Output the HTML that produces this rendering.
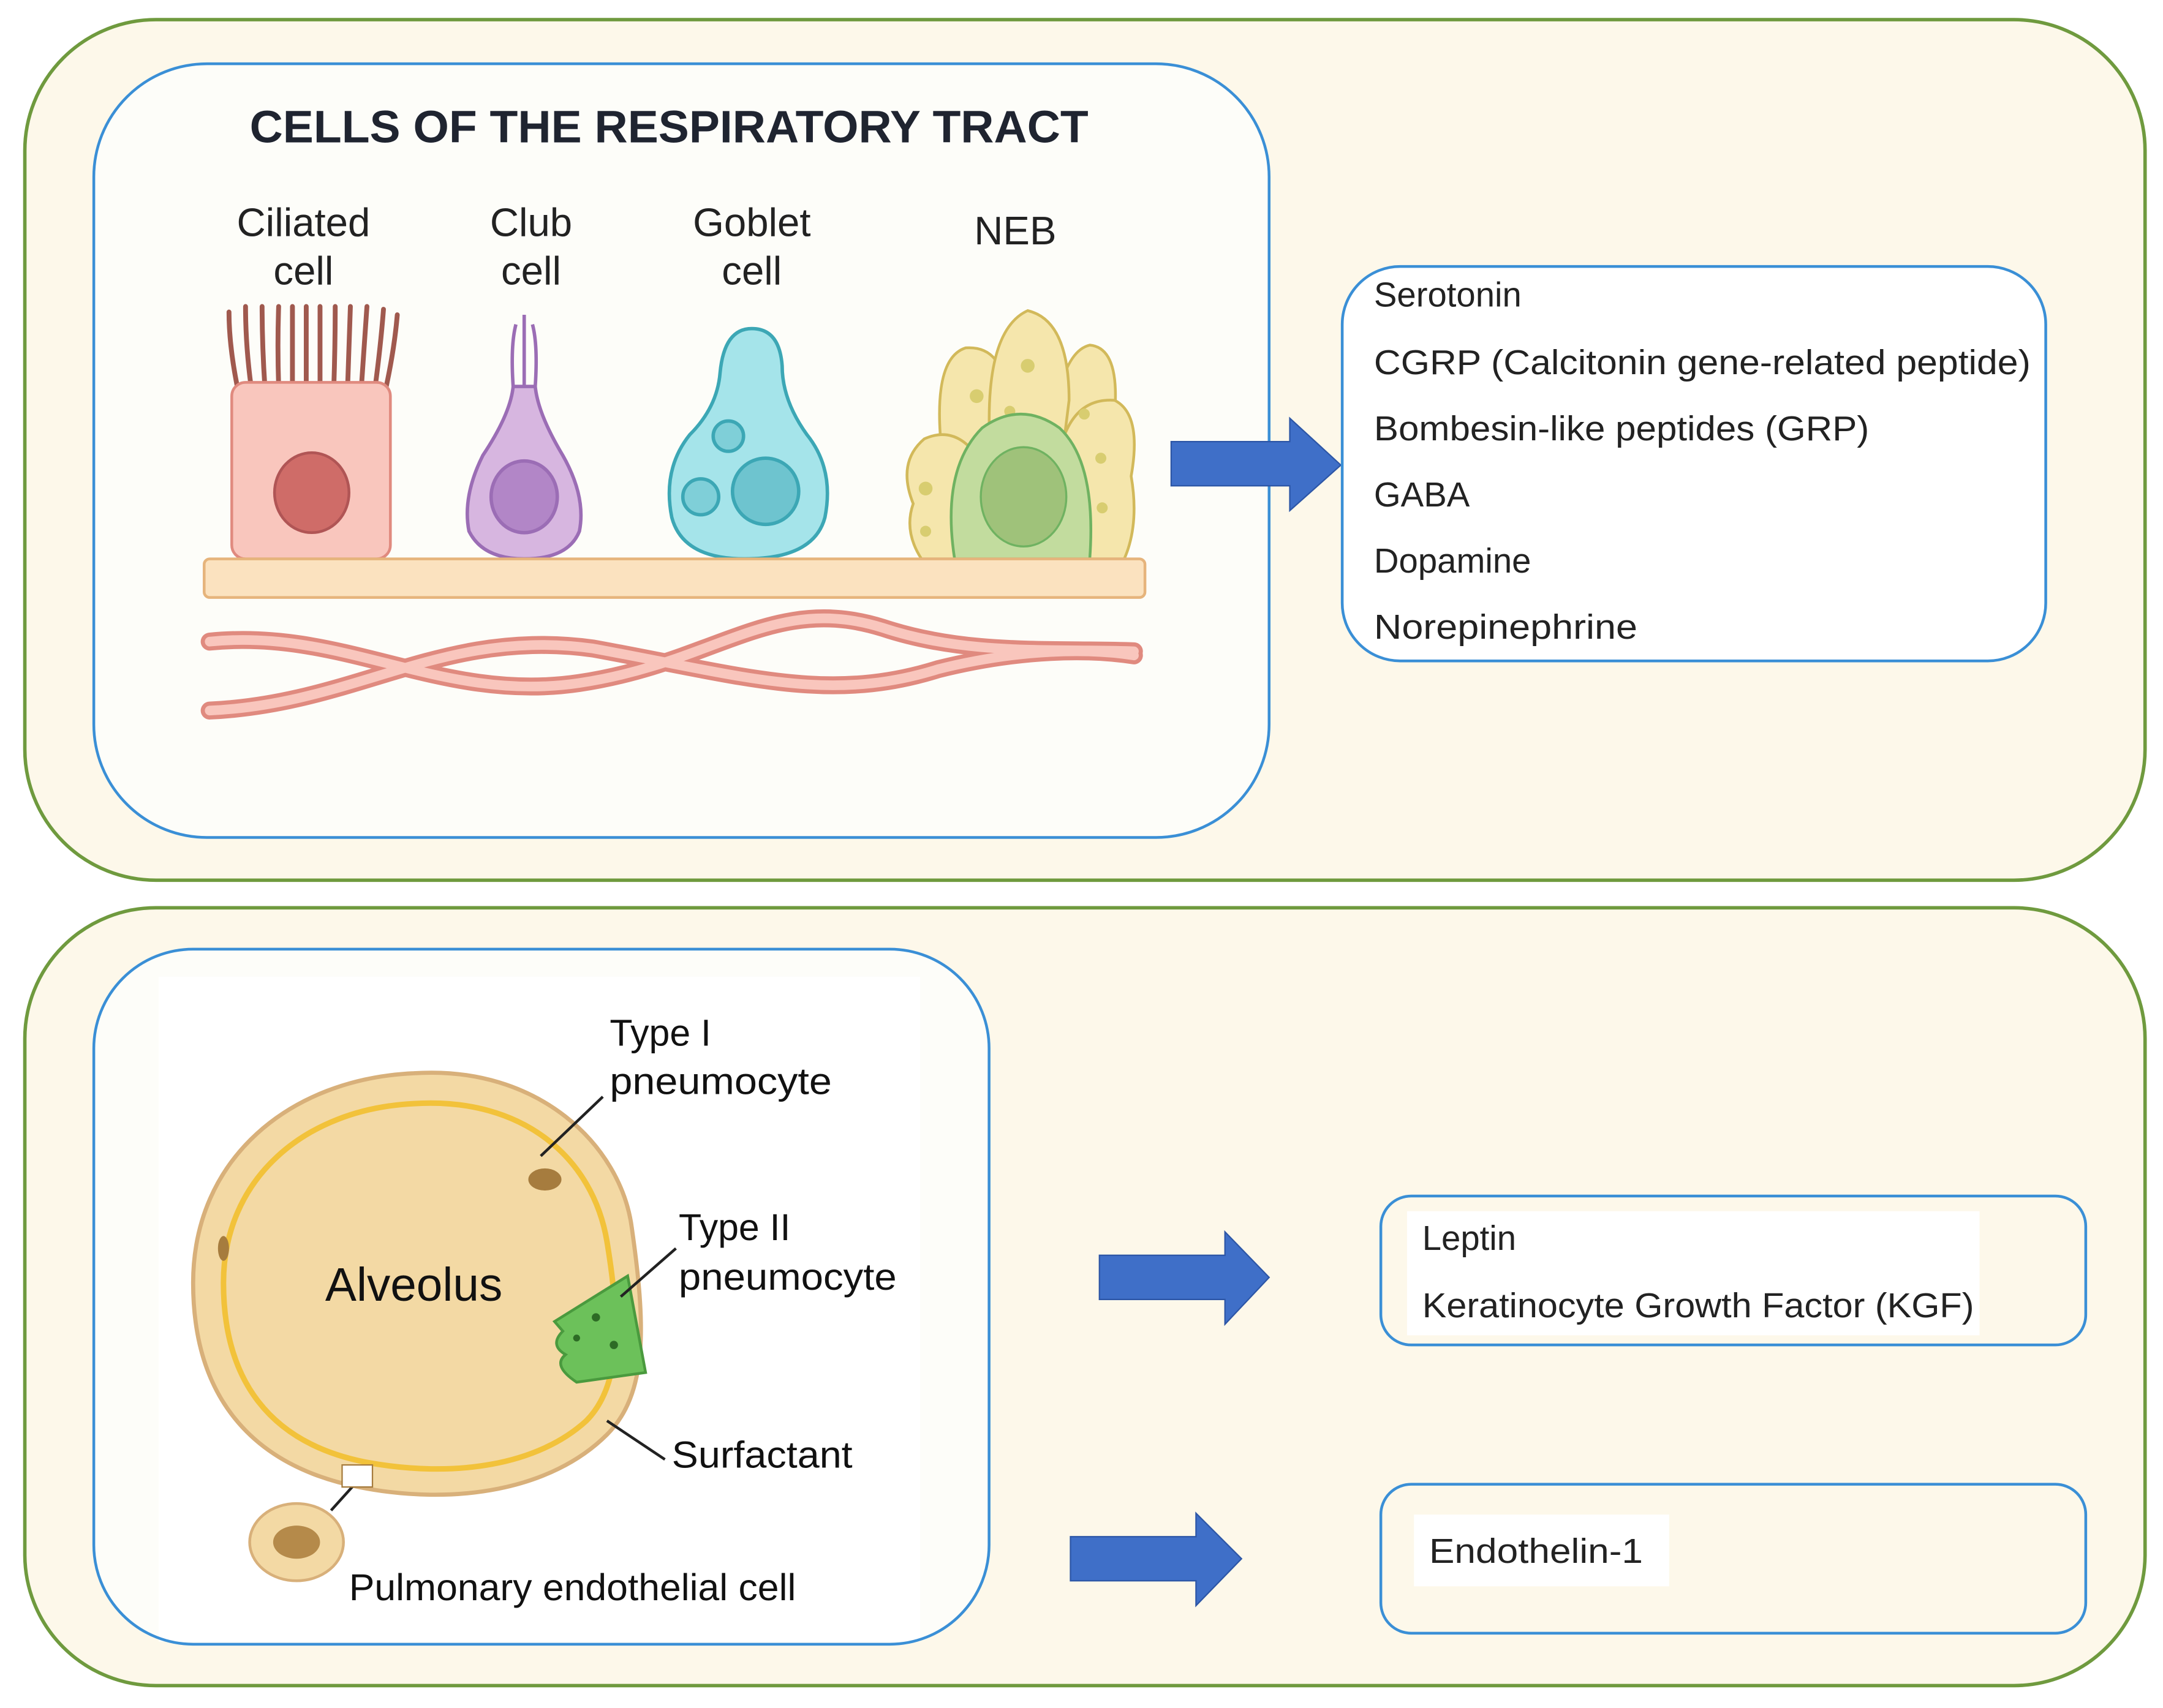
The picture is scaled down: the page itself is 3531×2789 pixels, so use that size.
<!DOCTYPE html>
<html><head><meta charset="utf-8"><style>html,body{margin:0;padding:0;background:#fff}svg{display:block}</style></head>
<body>
<svg width="3531" height="2789" viewBox="0 0 1568 1238" xmlns="http://www.w3.org/2000/svg" font-family="Liberation Sans, sans-serif">
<rect width="1568" height="1238" fill="#fff"/>
<rect x="18" y="14" width="1537" height="624" rx="95" fill="#fdf8ea" stroke="#6f9a3e" stroke-width="2.5"/>
<rect x="68" y="46" width="852" height="561" rx="82" fill="#fdfdf9" stroke="#3a8fd6" stroke-width="2"/>
<text x="485" y="103" text-anchor="middle" font-size="33" font-weight="bold" fill="#1f2430" textLength="608" lengthAdjust="spacingAndGlyphs">CELLS OF THE RESPIRATORY TRACT</text>
<g font-size="29" fill="#222" text-anchor="middle">
<text x="220" y="171">Ciliated</text><text x="220" y="206">cell</text>
<text x="385" y="171">Club</text><text x="385" y="206">cell</text>
<text x="545" y="171">Goblet</text><text x="545" y="206">cell</text>
<text x="736" y="177">NEB</text>
</g>
<g stroke="#a0594e" stroke-width="3.5" stroke-linecap="round" fill="none">
<path d="M172 280 Q166 250 166 226"/><path d="M182 280 Q178 250 178 222"/><path d="M192 280 Q190 250 190 222"/><path d="M202 280 Q201 250 202 222"/><path d="M212 280 V222"/><path d="M222 280 V222"/><path d="M232 280 V222"/><path d="M242 280 Q243 250 243 222"/><path d="M252 280 Q253 250 254 222"/><path d="M262 280 Q264 250 266 222"/><path d="M272 280 Q276 250 278 224"/><path d="M280 280 Q286 252 288 228"/>
</g>
<rect x="168" y="277" width="115" height="128" rx="10" fill="#f9c6bd" stroke="#e08a7f" stroke-width="2"/>
<ellipse cx="226" cy="357" rx="27" ry="29" fill="#cf6c68" stroke="#b05555" stroke-width="2"/>
<g stroke="#9b6db5" stroke-width="2.5" fill="#d7b6e0">
<path d="M372 280 Q370 250 374 235 M380 280 V228 M388 280 Q390 250 386 235" fill="none"/>
<path d="M372 280 Q370 300 350 330 Q335 360 340 385 Q350 405 380 405 Q412 405 420 385 Q425 360 408 330 Q390 300 388 280 Z"/>
<ellipse cx="380" cy="360" rx="24" ry="26" fill="#b286c7"/>
</g>
<g stroke="#3ca7b5" stroke-width="2.5" fill="#a5e4ea">
<path d="M545 238 Q525 238 522 270 Q520 295 500 315 Q480 340 487 375 Q495 405 540 405 Q590 405 598 375 Q605 340 585 315 Q567 290 567 265 Q565 238 545 238 Z"/>
<circle cx="528" cy="316" r="11" fill="#7fcfd8"/>
<circle cx="508" cy="360" r="13" fill="#7fcfd8"/>
<circle cx="555" cy="356" r="24" fill="#6ec4cf"/>
</g>
<g stroke="#d2b95a" stroke-width="2" fill="#f5e6ac">
<path d="M683 330 Q675 260 700 252 Q728 250 730 290 L735 330 Z"/>
<path d="M762 320 Q768 255 790 250 Q812 252 808 300 L800 330 Z"/>
<path d="M718 330 Q712 240 745 225 Q775 232 775 290 L770 330 Z"/>
<path d="M668 405 Q655 385 662 365 Q650 335 670 318 Q692 308 708 330 L715 405 Z"/>
<path d="M770 405 L770 320 Q780 288 808 290 Q828 300 820 345 Q826 380 815 405 Z"/>
</g>
<g fill="#d8cd70"><circle cx="745" cy="265" r="5"/><circle cx="732" cy="298" r="4"/><circle cx="708" cy="287" r="5"/><circle cx="786" cy="300" r="4"/><circle cx="798" cy="332" r="4"/><circle cx="799" cy="368" r="4"/><circle cx="671" cy="354" r="5"/><circle cx="671" cy="385" r="4"/></g>
<path d="M692 405 Q682 340 712 310 Q740 290 768 310 Q795 335 790 405 Z" fill="#c2dc9e" stroke="#6fb261" stroke-width="2"/>
<ellipse cx="742" cy="360" rx="31" ry="36" fill="#9fc27a" stroke="#6fb261" stroke-width="1.5"/>
<rect x="148" y="405" width="682" height="28" rx="4" fill="#fbe2bf" stroke="#e6b47c" stroke-width="2"/>
<g fill="none" stroke="#e08a7f" stroke-width="13" stroke-linecap="round">
<path d="M152 465 C250 455 320 510 420 495 C520 480 560 430 640 455 C700 475 760 470 822 472"/>
<path d="M152 515 C260 510 320 455 430 470 C540 490 600 510 680 485 C740 470 790 470 822 475"/>
</g>
<g fill="none" stroke="#f9c6bd" stroke-width="7" stroke-linecap="round">
<path d="M152 465 C250 455 320 510 420 495 C520 480 560 430 640 455 C700 475 760 470 822 472"/>
<path d="M152 515 C260 510 320 455 430 470 C540 490 600 510 680 485 C740 470 790 470 822 475"/>
</g>
<path d="M849 320 H935 V303 L972 337 L935 370 V352 H849 Z" fill="#3f6fc8" stroke="#2d56a6" stroke-width="1"/>
<rect x="973" y="193" width="510" height="286" rx="42" fill="#fff" stroke="#3a8fd6" stroke-width="2"/>
<g font-size="25" fill="#222">
<text x="996" y="222">Serotonin</text>
<text x="996" y="271" textLength="476" lengthAdjust="spacingAndGlyphs">CGRP (Calcitonin gene-related peptide)</text>
<text x="996" y="319" textLength="359" lengthAdjust="spacingAndGlyphs">Bombesin-like peptides (GRP)</text>
<text x="996" y="367">GABA</text>
<text x="996" y="415">Dopamine</text>
<text x="996" y="463" textLength="191" lengthAdjust="spacingAndGlyphs">Norepinephrine</text>
</g>
<rect x="18" y="658" width="1537" height="564" rx="95" fill="#fdf8ea" stroke="#6f9a3e" stroke-width="2.5"/>
<rect x="68" y="688" width="649" height="504" rx="72" fill="#fdfdf9"/>
<rect x="115" y="708" width="552" height="482" fill="#fff"/>
<rect x="68" y="688" width="649" height="504" rx="72" fill="none" stroke="#3a8fd6" stroke-width="2"/>
<path d="M300 778 C390 772 450 830 458 890 C468 960 470 1010 440 1040 C400 1080 330 1092 260 1078 C180 1062 140 1010 140 930 C140 840 210 782 300 778 Z" fill="#f3d9a4" stroke="#d8b07a" stroke-width="3"/>
<path d="M300 800 C380 795 430 840 440 900 C450 960 450 1005 425 1030 C390 1062 330 1072 265 1060 C195 1046 162 1000 162 930 C162 855 220 804 300 800 Z" fill="none" stroke="#f2c23a" stroke-width="4"/>
<ellipse cx="395" cy="855" rx="12" ry="8" fill="#a67c3e"/>
<ellipse cx="162" cy="905" rx="4" ry="9" fill="#a67c3e"/>
<path d="M402 958 L455 925 L468 995 L418 1002 Q400 990 410 982 Q398 975 408 965 Z" fill="#6cc15a" stroke="#4a9a3e" stroke-width="2"/>
<circle cx="432" cy="955" r="3" fill="#2d6b25"/><circle cx="445" cy="975" r="3" fill="#2d6b25"/><circle cx="418" cy="970" r="2.5" fill="#2d6b25"/>
<text x="300" y="943" text-anchor="middle" font-size="34" fill="#111">Alveolus</text>
<g stroke="#222" stroke-width="2"><line x1="392" y1="838" x2="437" y2="795"/><line x1="450" y1="940" x2="490" y2="905"/><line x1="440" y1="1030" x2="482" y2="1058"/><line x1="240" y1="1095" x2="258" y2="1075"/></g>
<rect x="248" y="1062" width="22" height="16" fill="#fff" stroke="#a67c3e" stroke-width="1"/>
<ellipse cx="215" cy="1118" rx="34" ry="28" fill="#f3d9a4" stroke="#d8b07a" stroke-width="2"/>
<ellipse cx="215" cy="1118" rx="17" ry="12" fill="#b58a4a"/>
<g font-size="27" fill="#111">
<text x="442" y="758">Type I</text><text x="442" y="793" textLength="161" lengthAdjust="spacingAndGlyphs">pneumocyte</text>
<text x="492" y="899">Type II</text><text x="492" y="935" textLength="158" lengthAdjust="spacingAndGlyphs">pneumocyte</text>
<text x="487" y="1064" textLength="131" lengthAdjust="spacingAndGlyphs">Surfactant</text>
<text x="253" y="1160" textLength="324" lengthAdjust="spacingAndGlyphs">Pulmonary endothelial cell</text>
</g>
<path d="M797 910 H888 V893 L920 926 L888 960 V942 H797 Z" fill="#3f6fc8" stroke="#2d56a6"/>
<path d="M776 1114 H867 V1097 L900 1130 L867 1164 V1146 H776 Z" fill="#3f6fc8" stroke="#2d56a6"/>
<rect x="1001" y="867" width="511" height="108" rx="22" fill="#fdf8ea" stroke="#3a8fd6" stroke-width="2"/>
<rect x="1020" y="878" width="415" height="90" fill="#fff"/>
<rect x="1001" y="1076" width="511" height="108" rx="22" fill="#fdf8ea" stroke="#3a8fd6" stroke-width="2"/>
<rect x="1025" y="1098" width="185" height="52" fill="#fff"/>
<g font-size="25" fill="#222">
<text x="1031" y="906">Leptin</text>
<text x="1031" y="955" textLength="400" lengthAdjust="spacingAndGlyphs">Keratinocyte Growth Factor (KGF)</text>
<text x="1036" y="1133" textLength="155" lengthAdjust="spacingAndGlyphs">Endothelin-1</text>
</g>
</svg>
</body></html>
